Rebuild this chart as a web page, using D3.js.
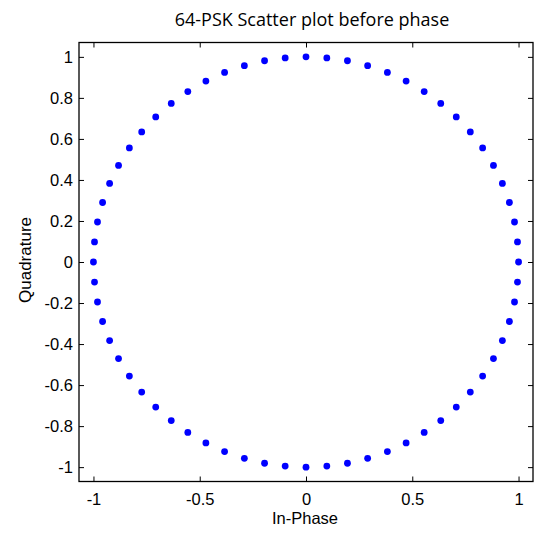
<!DOCTYPE html>
<html>
<head>
<meta charset="utf-8">
<script src="https://cdn.jsdelivr.net/npm/d3@7"></script>
<style>
  html, body { margin: 0; padding: 0; background: #fff; }
  svg { display: block; }
</style>
</head>
<body>
<svg id="chart" width="541" height="533"></svg>
<script>
const chartTitle = "64-PSK Scatter plot before phase";
const xLabel = "In-Phase";
const yLabel = "Quadrature";

const inPhase = [1, 0.995, 0.981, 0.957, 0.924, 0.882, 0.831, 0.773, 0.707, 0.634, 0.556, 0.471, 0.383, 0.290, 0.195, 0.098,
  0, -0.098, -0.195, -0.290, -0.383, -0.471, -0.556, -0.634, -0.707, -0.773, -0.831, -0.882, -0.924, -0.957, -0.981, -0.995,
  -1, -0.995, -0.981, -0.957, -0.924, -0.882, -0.831, -0.773, -0.707, -0.634, -0.556, -0.471, -0.383, -0.290, -0.195, -0.098,
  0, 0.098, 0.195, 0.290, 0.383, 0.471, 0.556, 0.634, 0.707, 0.773, 0.831, 0.882, 0.924, 0.957, 0.981, 0.995];

const quadrature = [0, 0.098, 0.195, 0.290, 0.383, 0.471, 0.556, 0.634, 0.707, 0.773, 0.831, 0.882, 0.924, 0.957, 0.981, 0.995,
  1, 0.995, 0.981, 0.957, 0.924, 0.882, 0.831, 0.773, 0.707, 0.634, 0.556, 0.471, 0.383, 0.290, 0.195, 0.098,
  0, -0.098, -0.195, -0.290, -0.383, -0.471, -0.556, -0.634, -0.707, -0.773, -0.831, -0.882, -0.924, -0.957, -0.981, -0.995,
  -1, -0.995, -0.981, -0.957, -0.924, -0.882, -0.831, -0.773, -0.707, -0.634, -0.556, -0.471, -0.383, -0.290, -0.195, -0.098];

const xTicks = [-1, -0.5, 0, 0.5, 1];
const yTicks = [-1, -0.8, -0.6, -0.4, -0.2, 0, 0.2, 0.4, 0.6, 0.8, 1];

const points = inPhase.map((v, i) => ({ x: v, y: quadrature[i] }));

const svg = d3.select("#chart");
const plotL = 79, plotR = 533, plotT = 42.5, plotB = 481.5;

const x = d3.scaleLinear().domain([-1.068, 1.068]).range([plotL, plotR]);
const y = d3.scaleLinear().domain([-1.07, 1.07]).range([plotB, plotT]);

const fmt = d => String(d);
const tickFont = "'Liberation Sans', Arial, sans-serif";

const gx = svg.append("g").attr("transform", `translate(0,${plotB})`)
  .call(d3.axisBottom(x).tickValues(xTicks).tickFormat(fmt).tickSizeInner(-5).tickSizeOuter(0).tickPadding(12));
const gxt = svg.append("g").attr("transform", `translate(0,${plotT})`)
  .call(d3.axisTop(x).tickValues(xTicks).tickFormat("").tickSizeInner(-5).tickSizeOuter(0));
const gy = svg.append("g").attr("transform", `translate(${plotL},0)`)
  .call(d3.axisLeft(y).tickValues(yTicks).tickFormat(fmt).tickSizeInner(-5).tickSizeOuter(0).tickPadding(12));
const gyr = svg.append("g").attr("transform", `translate(${plotR},0)`)
  .call(d3.axisRight(y).tickValues(yTicks).tickFormat("").tickSizeInner(-5).tickSizeOuter(0));

[gx, gxt, gy, gyr].forEach(g => {
  g.select(".domain").remove();
  g.selectAll(".tick line").attr("stroke", "#000").attr("stroke-width", 1);
  g.selectAll(".tick text").attr("fill", "#000").attr("font-family", tickFont).attr("font-size", 16.5);
});
gy.selectAll(".tick text").attr("dx", "6");

svg.append("rect")
  .attr("x", plotL).attr("y", plotT)
  .attr("width", plotR - plotL).attr("height", plotB - plotT)
  .attr("fill", "none").attr("stroke", "#000").attr("stroke-width", 1.3);

svg.append("g").selectAll("circle").data(points).join("circle")
  .attr("cx", d => x(d.x)).attr("cy", d => y(d.y))
  .attr("r", 3.4).attr("fill", "#0000ff");

svg.append("text").attr("x", 312).attr("y", 25.5).attr("text-anchor", "middle")
  .attr("font-family", "'Open Sans', 'Noto Sans', sans-serif").attr("font-size", 18)
  .attr("fill", "#000").text(chartTitle);

svg.append("text").attr("x", 305).attr("y", 524).attr("text-anchor", "middle")
  .attr("font-family", tickFont).attr("font-size", 16.5)
  .attr("fill", "#000").text(xLabel);

svg.append("text").attr("transform", `translate(31,260) rotate(-90)`).attr("text-anchor", "middle")
  .attr("font-family", tickFont).attr("font-size", 17)
  .attr("fill", "#000").text(yLabel);
</script>
</body>
</html>
